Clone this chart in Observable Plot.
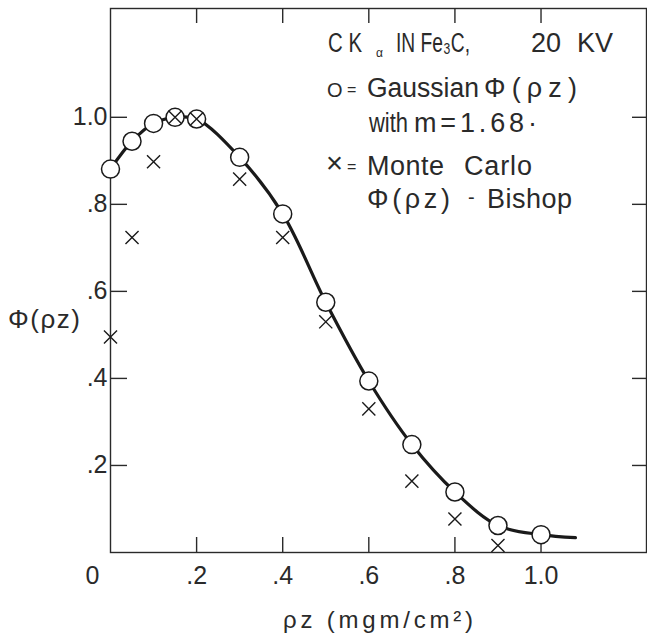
<!DOCTYPE html>
<html><head><meta charset="utf-8">
<script src="https://cdn.jsdelivr.net/npm/d3@7"></script>
<script src="https://cdn.jsdelivr.net/npm/@observablehq/plot@0.6"></script>
<style>
body{margin:0;background:#fff}
#chart svg{display:block}
</style></head>
<body><div id="chart"></div>
<script>
// ---- data ----
const gaussX = [0, 0.05, 0.1, 0.15, 0.2, 0.3, 0.4, 0.5, 0.6, 0.7, 0.8, 0.9, 1.0];
const gaussY = [0.881, 0.945, 0.986, 1.0, 0.996, 0.908, 0.778, 0.575, 0.394, 0.248, 0.139, 0.062, 0.041];
const mcX = [0, 0.05, 0.1, 0.15, 0.2, 0.3, 0.4, 0.5, 0.6, 0.7, 0.8, 0.9];
const mcY = [0.495, 0.724, 0.898, 1.0, 0.996, 0.858, 0.724, 0.530, 0.330, 0.164, 0.077, 0.016];
// smooth fitted curve: passes through the Gaussian points and runs on a little past 1.0
const curveX = [0, 0.05, 0.1, 0.15, 0.2, 0.3, 0.4, 0.5, 0.6, 0.7, 0.8, 0.9, 1.0, 1.08];
const curveY = [0.881, 0.945, 0.986, 1.0, 0.996, 0.908, 0.778, 0.575, 0.394, 0.248, 0.139, 0.062, 0.041, 0.034];
const xTicks = [0, 0.2, 0.4, 0.6, 0.8, 1.0];
const xTickLabels = ["0", ".2", ".4", ".6", ".8", "1.0"];
const yTicks = [0.2, 0.4, 0.6, 0.8, 1.0];
const yTickLabels = [".2", ".4", ".6", ".8", "1.0"];
const xTitle = "ρz (mgm/cm²)";
const yTitle = "Φ(ρz)";

const gauss = gaussX.map((x, i) => ({x, y: gaussY[i]}));
const mc = mcX.map((x, i) => ({x, y: mcY[i]}));
const curve = curveX.map((x, i) => ({x, y: curveY[i]}));

const W = 647, H = 638, mL = 110, mR = 1, mT = 8, mB = 86;
const innerW = W - mL - mR, innerH = H - mT - mB;
const FONT = "'Liberation Sans', Arial, sans-serif";
const INK = "#2a2a2a";

const chart = Plot.plot({
  width: W, height: H,
  marginLeft: mL, marginRight: mR, marginTop: mT, marginBottom: mB,
  style: {fontFamily: FONT, fontSize: "25px", background: "#fff", color: INK, overflow: "visible"},
  x: {domain: [0, 1.245]},
  y: {domain: [0, 1.25]},
  marks: [
    Plot.frame({stroke: INK, strokeWidth: 1.4}),
    // inward ticks on all four sides
    Plot.tickX(xTicks.slice(1), {x: d => d, insetTop: innerH - 15, stroke: INK, strokeWidth: 1.4}),
    Plot.tickX(xTicks.slice(1), {x: d => d, insetBottom: innerH - 15, stroke: INK, strokeWidth: 1.4}),
    Plot.tickY(yTicks, {y: d => d, insetRight: innerW - 17, stroke: INK, strokeWidth: 1.4}),
    Plot.tickY(yTicks, {y: d => d, insetLeft: innerW - 14, stroke: INK, strokeWidth: 1.4}),
    // tick labels
    Plot.axisX(xTicks.slice(1), {anchor: "bottom", tickSize: 0, tickPadding: 14, label: null,
      tickFormat: d => xTickLabels[xTicks.indexOf(d)], fontSize: 25, fill: INK}),
    Plot.axisX([xTicks[0]], {anchor: "bottom", tickSize: 0, tickPadding: 14, label: null, dx: -18,
      tickFormat: d => xTickLabels[xTicks.indexOf(d)], fontSize: 25, fill: INK}),
    Plot.axisY(yTicks, {anchor: "left", tickSize: 0, tickPadding: 3, label: null,
      tickFormat: d => yTickLabels[yTicks.indexOf(d)], fontSize: 25, fill: INK}),
    // fitted curve
    Plot.line(curve, {x: "x", y: "y", curve: "catmull-rom", stroke: "#1a1a1a", strokeWidth: 3.2}),
    // Gaussian points
    Plot.dot(gauss, {x: "x", y: "y", r: 9, fill: "#fff", stroke: "#1a1a1a", strokeWidth: 1.5}),
    // Monte Carlo points
    Plot.dot(mc, {x: "x", y: "y", symbol: "times", r: 6, stroke: "#1a1a1a", strokeWidth: 1.4})
  ]
});
document.getElementById("chart").appendChild(chart);

// ---- annotation text (real SVG text) ----
const svg = d3.select(chart);
const g = svg.append("g").attr("font-family", FONT).attr("fill", INK).attr("text-anchor", "start");

// a word at x / baseline y; if a width is given, squeeze glyphs to fit or open the letter spacing
function word(t, x, y, size, w) {
  const el = g.append("text").attr("x", x).attr("y", y).attr("font-size", size).text(t);
  if (w) {
    const natural = el.node().getComputedTextLength();
    el.attr("textLength", w).attr("lengthAdjust", w < natural ? "spacingAndGlyphs" : "spacing");
  }
  return el;
}

// title block
word("C K", 328, 52, 27, 34);
word("α", 376, 57, 12);
word("IN Fe₃C,", 396, 52, 27, 74);
word("20", 531, 52, 27);
word("KV", 577, 52, 27);

word("O", 327, 97, 20, 16);
word("=", 347, 95, 16, 10);
word("Gaussian", 367, 97, 27, 112);
word("Φ(ρz)", 484, 97, 27, 93);

word("with", 369, 132, 27, 39);
word("m=1.68·", 414, 132, 27, 123);

word("×", 326, 173, 30, 17);
word("=", 347, 172, 16, 10);
word("Monte", 367, 175, 27, 77);
word("Carlo", 464, 175, 27, 68);

word("Φ(ρz)", 367, 208, 27, 83);
word("-", 468, 204, 20, 7);
word("Bishop", 487, 208, 27, 85);

// axis titles
g.append("text").attr("x", 8).attr("y", 328).attr("font-size", 26)
  .attr("textLength", 72).attr("lengthAdjust", "spacing").text(yTitle);
g.append("text").attr("x", 283).attr("y", 628).attr("font-size", 24)
  .attr("textLength", 190).attr("lengthAdjust", "spacing").text(xTitle);
</script></body></html>
